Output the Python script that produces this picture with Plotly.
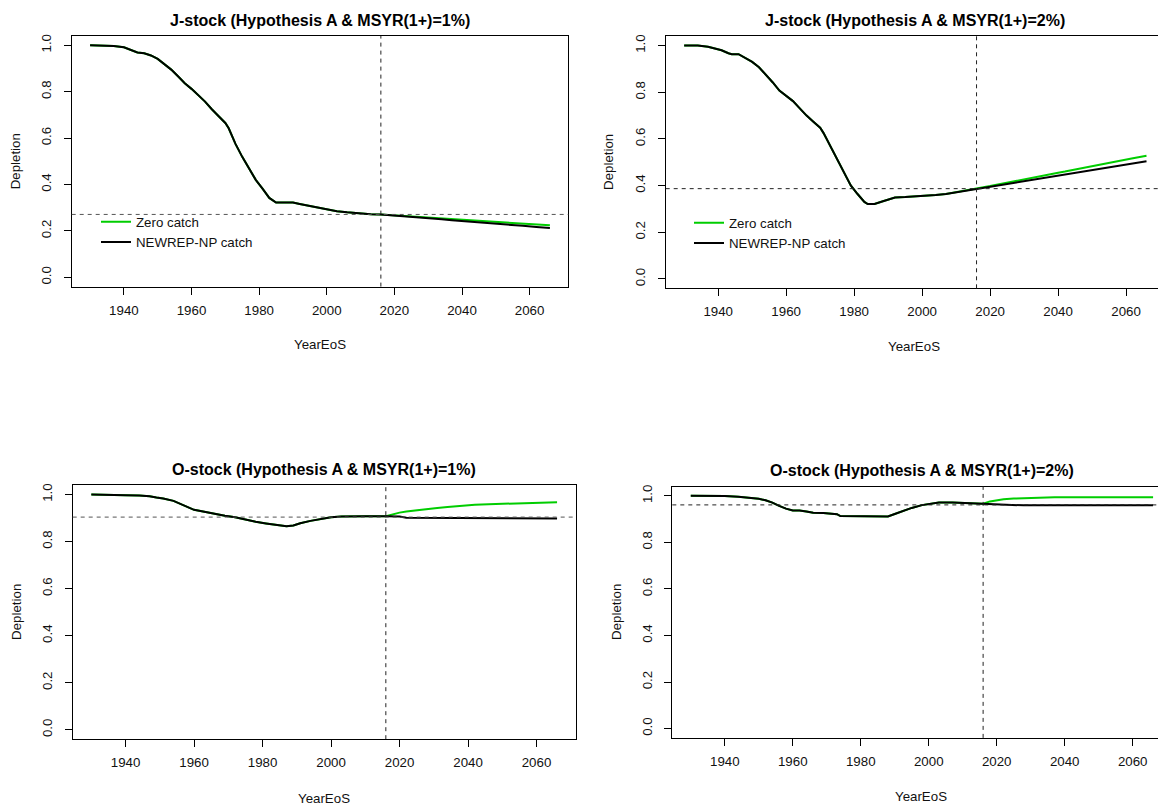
import plotly.graph_objects as go

# ---------------- data ----------------
x_ticks = [1940, 1960, 1980, 2000, 2020, 2040, 2060]
y_ticks = [0.0, 0.2, 0.4, 0.6, 0.8, 1.0]

proj_years = [2018, 2020, 2022, 2025, 2028, 2031, 2034, 2037, 2040, 2042,
              2046, 2050, 2054, 2058, 2062, 2066]

# J-stock, MSYR(1+)=1%
j1_years = [1930, 1934, 1937, 1940, 1942, 1944, 1946, 1948, 1950, 1952, 1954,
            1956, 1958, 1960, 1962, 1964, 1966, 1968, 1970, 1971, 1972, 1973,
            1975, 1977, 1979, 1981, 1983, 1985, 1990, 1992, 1995, 1998, 2000,
            2003, 2006, 2010, 2013, 2016]
j1_hist = [1.000, 1.000, 0.997, 0.991, 0.981, 0.969, 0.965, 0.956, 0.941, 0.918,
           0.895, 0.866, 0.836, 0.812, 0.785, 0.757, 0.724, 0.695, 0.665, 0.642,
           0.610, 0.575, 0.519, 0.468, 0.420, 0.382, 0.342, 0.322, 0.322, 0.316,
           0.307, 0.300, 0.293, 0.285, 0.280, 0.275, 0.272, 0.271]
j1_newrep = [0.269, 0.266, 0.264, 0.260, 0.257, 0.253, 0.250, 0.246, 0.243,
             0.240, 0.236, 0.231, 0.226, 0.222, 0.217, 0.212]
j1_zero = [0.269, 0.267, 0.265, 0.263, 0.260, 0.257, 0.254, 0.251, 0.248,
           0.247, 0.243, 0.239, 0.235, 0.232, 0.228, 0.224]

# J-stock, MSYR(1+)=2%
j2_years = [1930, 1934, 1937, 1939, 1941, 1943, 1944, 1946, 1948, 1950, 1952,
            1954, 1956, 1958, 1960, 1962, 1964, 1966, 1968, 1970, 1971, 1973,
            1975, 1977, 1979, 1981, 1983, 1984, 1986, 1988, 1990, 1992, 1995,
            1998, 2001, 2004, 2007, 2010, 2013, 2016]
j2_hist = [1.000, 1.000, 0.995, 0.989, 0.980, 0.967, 0.963, 0.963, 0.948, 0.930,
           0.907, 0.877, 0.843, 0.807, 0.784, 0.762, 0.731, 0.700, 0.674, 0.648,
           0.625, 0.568, 0.512, 0.455, 0.401, 0.364, 0.330, 0.321, 0.321, 0.331,
           0.341, 0.349, 0.351, 0.353, 0.356, 0.360, 0.364, 0.371, 0.380, 0.387]
j2_newrep = [0.392, 0.396, 0.401, 0.408, 0.415, 0.422, 0.429, 0.436, 0.443,
             0.448, 0.457, 0.467, 0.476, 0.485, 0.495, 0.504]
j2_zero = [0.393, 0.398, 0.404, 0.412, 0.421, 0.429, 0.438, 0.446, 0.455,
           0.460, 0.472, 0.483, 0.494, 0.505, 0.517, 0.528]

# O-stock, MSYR(1+)=1%
o1_years = [1930, 1938, 1940, 1944, 1947, 1949, 1951, 1954, 1956, 1958, 1960,
            1963, 1966, 1969, 1972, 1975, 1978, 1981, 1984, 1987, 1989, 1991,
            1994, 1997, 2000, 2003, 2006, 2010, 2016]
o1_hist = [1.000, 1.000, 0.997, 0.996, 0.993, 0.987, 0.983, 0.973, 0.960, 0.946,
           0.935, 0.927, 0.917, 0.910, 0.903, 0.892, 0.884, 0.877, 0.871, 0.865,
           0.868, 0.878, 0.888, 0.896, 0.903, 0.907, 0.908, 0.908, 0.908]
o1_newrep = [0.908, 0.907, 0.901, 0.901, 0.901, 0.901, 0.901, 0.901, 0.901,
             0.898, 0.898, 0.898, 0.898, 0.898, 0.898, 0.898]
o1_zero = [0.917, 0.923, 0.928, 0.934, 0.939, 0.943, 0.947, 0.951, 0.954,
           0.956, 0.959, 0.961, 0.963, 0.965, 0.966, 0.967]

# O-stock, MSYR(1+)=2%
o2_years = [1930, 1938, 1940, 1944, 1947, 1950, 1952, 1954, 1956, 1958, 1960,
            1962, 1964, 1966, 1969, 1972, 1973, 1974, 1978, 1982, 1986, 1988,
            1990, 1992, 1995, 1998, 2001, 2003, 2007, 2010, 2013, 2016]
o2_hist = [1.000, 1.000, 0.999, 0.996, 0.992, 0.987, 0.981, 0.971, 0.957, 0.945,
           0.937, 0.937, 0.933, 0.927, 0.926, 0.923, 0.921, 0.913, 0.913, 0.911,
           0.910, 0.911, 0.922, 0.933, 0.948, 0.960, 0.967, 0.971, 0.971, 0.969,
           0.967, 0.966]
o2_newrep = [0.965, 0.964, 0.960, 0.959, 0.959, 0.959, 0.959, 0.959, 0.959,
             0.959, 0.959, 0.959, 0.959, 0.959, 0.959, 0.959]
o2_zero = [0.976, 0.982, 0.985, 0.988, 0.990, 0.992, 0.993, 0.994, 0.994,
           0.994, 0.994, 0.994, 0.994, 0.994, 0.994, 0.994]

titles = ["J-stock (Hypothesis A & MSYR(1+)=1%)",
          "J-stock (Hypothesis A & MSYR(1+)=2%)",
          "O-stock (Hypothesis A & MSYR(1+)=1%)",
          "O-stock (Hypothesis A & MSYR(1+)=2%)"]
ref_depletion = [0.271, 0.387, 0.904, 0.961]
ref_year = 2016
series_names = ["Zero catch", "NEWREP-NP catch"]

# ---------------- layout geometry (window pixels) ----------------
OFF = 8                      # default page body margin
W, H = 1166 - OFF, 809 - OFF # figure size so that it ends at the window edge
FONT = "Liberation Sans, Arial, sans-serif"
GREEN = "#00CD00"
TXT = "#111111"
FS = 13.3


def px(v):
    return (v - OFF) / W


def py(v):
    return 1 - (v - OFF) / H


geom = [
    dict(box=(71.7, 568.3, 34.0, 285.3), xr=(1924.56, 2071.44), ymirror=True,
         tc=(320.0, 18.3), xt=(320.0, 343.3), yt=(15.7, 160.0), hcol="#555555"),
    dict(box=(665.7, 1165.0, 34.3, 287.0), xr=(1924.56, 2071.44), ymirror=True,
         tc=(915.3, 18.3), xt=(914.3, 345.7), yt=(608.3, 160.0), hcol="#222222"),
    dict(box=(72.7, 575.7, 484.3, 739.0), xr=(1924.56, 2071.44), ymirror=True,
         tc=(324.2, 468.3), xt=(323.8, 798.3), yt=(15.7, 611.7), hcol="#555555"),
    dict(box=(672.3, 1166.0, 485.7, 737.7), xr=(1924.56, 2069.8), ymirror=False,
         tc=(921.9, 469.3), xt=(921.0, 796.7), yt=(615.7, 611.7), hcol="#222222"),
]

panels = [
    (j1_years, j1_hist, j1_zero, j1_newrep),
    (j2_years, j2_hist, j2_zero, j2_newrep),
    (o1_years, o1_hist, o1_zero, o1_newrep),
    (o2_years, o2_hist, o2_zero, o2_newrep),
]

fig = go.Figure()
layout = dict(
    width=W, height=H, autosize=False,
    margin=dict(l=0, r=0, t=0, b=0),
    paper_bgcolor="white", plot_bgcolor="white",
    font=dict(family=FONT, size=FS, color=TXT),
    showlegend=True,
)

annotations = []
shapes = []

for k, (g, (yrs, hist, zero, newrep)) in enumerate(zip(geom, panels), start=1):
    sfx = "" if k == 1 else str(k)
    xa, ya = "x" + sfx, "y" + sfx
    l, r, t, b = g["box"]
    legend_id = "legend" if k == 1 else ("legend2" if k == 2 else None)

    x_all = yrs + proj_years
    fig.add_trace(go.Scatter(
        x=x_all, y=hist + zero, mode="lines", name=series_names[0],
        line=dict(color=GREEN, width=2), xaxis=xa, yaxis=ya,
        showlegend=legend_id is not None,
        legend=legend_id if legend_id else "legend"))
    fig.add_trace(go.Scatter(
        x=x_all, y=hist + newrep, mode="lines", name=series_names[1],
        line=dict(color="black", width=2), xaxis=xa, yaxis=ya,
        showlegend=legend_id is not None,
        legend=legend_id if legend_id else "legend"))

    layout["xaxis" + sfx] = dict(
        domain=[px(l), min(px(r), 1.0)], anchor=ya, range=list(g["xr"]),
        tickmode="array", tickvals=x_ticks,
        showline=True, mirror=True, linecolor="black", linewidth=1,
        ticks="outside", ticklen=7, tickwidth=1, tickcolor="black",
        showgrid=False, zeroline=False,
        tickfont=dict(family=FONT, size=FS, color=TXT),
        ticklabelstandoff=4,
    )
    layout["yaxis" + sfx] = dict(
        domain=[py(b), py(t)], anchor=xa, range=[-0.04, 1.04],
        tickmode="array", tickvals=y_ticks, tickformat=".1f", tickangle=-90,
        showline=True, mirror=g["ymirror"], linecolor="black", linewidth=1,
        ticks="outside", ticklen=7, tickwidth=1, tickcolor="black",
        showgrid=False, zeroline=False,
        tickfont=dict(family=FONT, size=FS, color=TXT),
        ticklabelstandoff=7,
    )

    # reference lines
    shapes.append(dict(type="line", xref=xa + " domain", yref=ya,
                       x0=0, x1=1, y0=ref_depletion[k - 1], y1=ref_depletion[k - 1],
                       line=dict(color=g["hcol"], width=1, dash="4px,4px"), layer="above"))
    shapes.append(dict(type="line", xref=xa, yref=ya + " domain",
                       x0=ref_year, x1=ref_year, y0=0, y1=1,
                       line=dict(color="#222222", width=1, dash="4px,4px"), layer="above"))

    # titles
    annotations.append(dict(text=titles[k - 1], xref="paper", yref="paper",
                            x=px(g["tc"][0]), y=py(g["tc"][1]),
                            xanchor="center", yanchor="middle", showarrow=False,
                            font=dict(family=FONT, size=16.0, color="black", weight="bold")))
    annotations.append(dict(text="YearEoS", xref="paper", yref="paper",
                            x=px(g["xt"][0]), y=py(g["xt"][1]),
                            xanchor="center", yanchor="middle", showarrow=False,
                            font=dict(family=FONT, size=FS, color=TXT)))
    annotations.append(dict(text="Depletion", xref="paper", yref="paper",
                            x=px(g["yt"][0]), y=py(g["yt"][1]), textangle=-90,
                            xanchor="center", yanchor="middle", showarrow=False,
                            font=dict(family=FONT, size=FS, color=TXT)))

leg_common = dict(xanchor="left", yanchor="top", bgcolor="rgba(0,0,0,0)",
                  borderwidth=0, font=dict(family=FONT, size=FS, color=TXT),
                  tracegroupgap=0, itemclick=False, itemdoubleclick=False)
layout["legend"] = dict(x=px(96.0), y=py(205.0), **leg_common)
layout["legend2"] = dict(x=px(689.0), y=py(206.0), **leg_common)
layout["annotations"] = annotations
layout["shapes"] = shapes

fig.update_layout(**layout)
fig.write_html("out.html")
